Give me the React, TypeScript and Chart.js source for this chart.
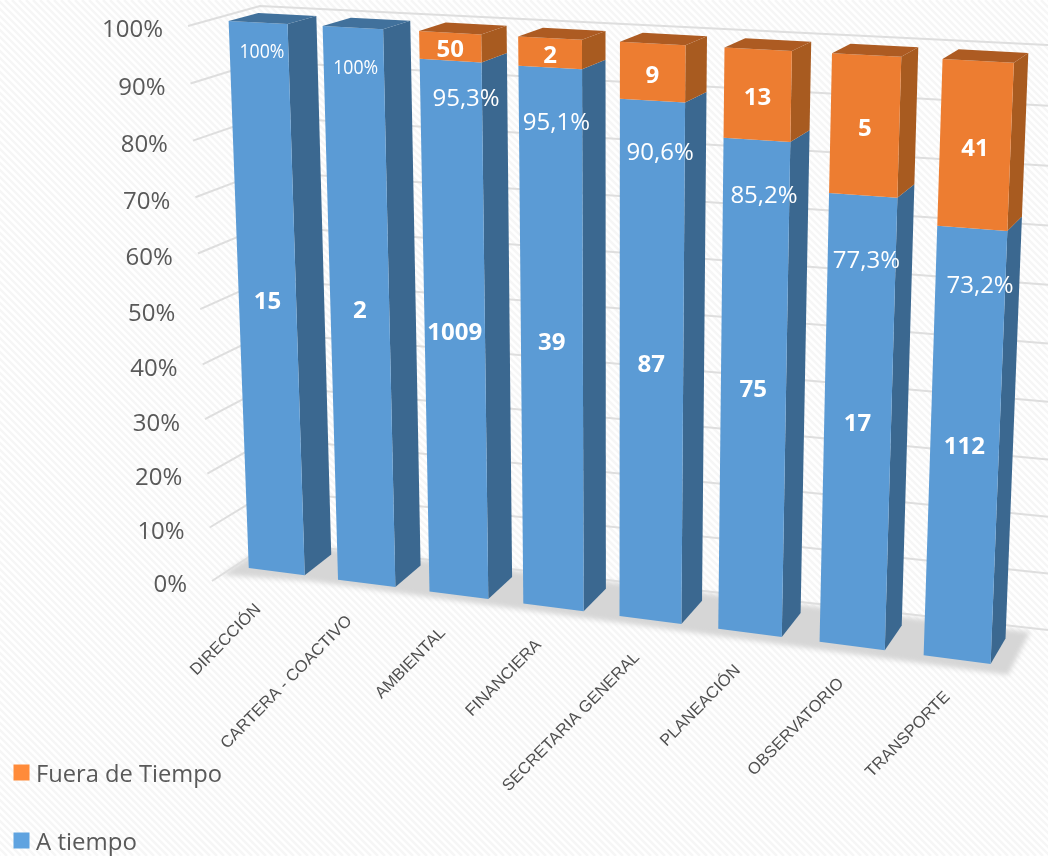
import React, { useEffect, useRef } from "react";
import { Chart, registerables } from "chart.js";

Chart.register(...registerables);

const categories = ["DIRECCIÓN", "CARTERA - COACTIVO", "AMBIENTAL", "FINANCIERA", "SECRETARIA GENERAL", "PLANEACIÓN", "OBSERVATORIO", "TRANSPORTE"];
const aTiempoPct = [100, 100, 95.3, 95.1, 90.6, 85.2, 77.3, 73.2];
const fueraPct = [0, 0, 4.7, 4.9, 9.4, 14.8, 22.7, 26.8];
const aTiempoCount = [15, 2, 1009, 39, 87, 75, 17, 112];
const fueraCount = [0, 0, 50, 2, 9, 13, 5, 41];
const pctLabels = ["100%", "100%", "95,3%", "95,1%", "90,6%", "85,2%", "77,3%", "73,2%"];
const yTicks = { min: 0, max: 100, step: 10 };

// layout of the label placed inside the blue segments (value height, sideways nudge)
const pctLabelHeight = [94.8, 93, 88.7, 85.8, 81.9, 75.9, 66.4, 63.7];
const pctLabelNudge = [3, 2, 15, 6, 8, 8, 5, 10];

type P = [number, number];
type Quad = { bl: P; br: P; tr: P; tl: P };

function homography(q: Quad) {
  const [x0, y0] = q.bl, [x1, y1] = q.br, [x2, y2] = q.tr, [x3, y3] = q.tl;
  const dx1 = x1 - x2, dx2 = x3 - x2, sx = x0 - x1 + x2 - x3;
  const dy1 = y1 - y2, dy2 = y3 - y2, sy = y0 - y1 + y2 - y3;
  const det = dx1 * dy2 - dx2 * dy1;
  const g = (sx * dy2 - dx2 * sy) / det;
  const h = (dx1 * sy - sx * dy1) / det;
  const a = x1 - x0 + g * x1, b = x3 - x0 + h * x3;
  const d = y1 - y0 + g * y1, e = y3 - y0 + h * y3;
  return (u: number, v: number): P => {
    const w = g * u + h * v + 1;
    return [(a * u + b * v + x0) / w, (d * u + e * v + y0) / w];
  };
}

// walls: straight edges, with a mild foreshortening of the value axis
function wallMap(q: Quad) {
  const c = 0.96;
  return (u: number, v: number): P => {
    const s = (c * v) / (1 - (1 - c) * v);
    const bx = q.bl[0] + (q.br[0] - q.bl[0]) * u, by = q.bl[1] + (q.br[1] - q.bl[1]) * u;
    const tx = q.tl[0] + (q.tr[0] - q.tl[0]) * u, ty = q.tl[1] + (q.tr[1] - q.tl[1]) * u;
    return [bx + (tx - bx) * s, by + (ty - by) * s];
  };
}

const front = homography({ bl: [232.5, 566], br: [1010.5, 666.5], tr: [1035, 64], tl: [211.5, 20] });
const back = homography({ bl: [260, 545.5], br: [1025, 641], tr: [1049, 54], tl: [241.5, 12] });
const wall = wallMap({ bl: [272, 542], br: [1048, 630], tr: [1048, 45], tl: [260, 6] });
const sideWall = wallMap({ bl: [212, 581], br: [272, 542], tr: [260, 6], tl: [188, 26] });

const COLORS = {
  blue: "#5b9bd5", blueSide: "#3b6890", blueTop: "#41719c",
  orange: "#ed7d31", orangeSide: "#a85b20", orangeTop: "#ad5b22",
  legendBlue: "#5fa3e0", legendOrange: "#ff8b3a",
  grid: "#dedede", floor: "#d6d6d6", axisText: "#595959", catText: "#505050",
};

function poly(ctx: CanvasRenderingContext2D, pts: P[], fill: string) {
  ctx.beginPath();
  pts.forEach((p, i) => (i ? ctx.lineTo(p[0], p[1]) : ctx.moveTo(p[0], p[1])));
  ctx.closePath();
  ctx.fillStyle = fill;
  ctx.fill();
}

const perspective = {
  id: "perspective",
  beforeDraw(chart: any) {
    const { ctx, width, height } = chart;
    ctx.save();
    ctx.fillStyle = "#ffffff";
    ctx.fillRect(0, 0, width, height);
    ctx.strokeStyle = "#f6f6f6";
    ctx.lineWidth = 2.5;
    ctx.beginPath();
    for (let c = -height; c < width + height; c += 7) {
      ctx.moveTo(c, 0);
      ctx.lineTo(c + height, height);
    }
    ctx.stroke();
    ctx.restore();
  },
  beforeDatasetsDraw(chart: any) {
    const { ctx, chartArea, scales } = chart;
    const U = (px: number) => (px - chartArea.left) / chartArea.width;
    const V = (py: number) => (chartArea.bottom - py) / chartArea.height;
    const yScale = scales.y;
    const xScale = scales.x;

    ctx.save();
    // floor
    ctx.save();
    ctx.filter = "blur(2.5px)";
    poly(ctx, [[222, 575], [272, 542], [1030, 632], [1008, 675], [310, 581]], COLORS.floor);
    ctx.restore();

    // grid lines on both walls
    ctx.strokeStyle = COLORS.grid;
    ctx.lineWidth = 2;
    yScale.ticks.forEach((t: any, i: number) => {
      const v = V(yScale.getPixelForTick(i));
      const a = sideWall(0, v), b = sideWall(1, v), c = wall(1, v);
      ctx.beginPath();
      ctx.moveTo(a[0], a[1]);
      ctx.lineTo(b[0], b[1]);
      ctx.lineTo(c[0], c[1]);
      ctx.stroke();
    });

    // y tick labels
    ctx.fillStyle = COLORS.axisText;
    ctx.font = '24px "Open Sans"';
    ctx.textAlign = "right";
    ctx.textBaseline = "middle";
    yScale.ticks.forEach((t: any, i: number) => {
      const v = V(yScale.getPixelForTick(i));
      const a = sideWall(0, v);
      ctx.fillText(t.label, a[0] - 25, a[1] + 4.5);
    });

    // x tick labels
    ctx.fillStyle = COLORS.catText;
    ctx.font = '16.5px "Liberation Sans"';
    ctx.textAlign = "right";
    xScale.ticks.forEach((t: any, i: number) => {
      const u = U(xScale.getPixelForTick(i));
      const p = front(u, 0);
      ctx.save();
      ctx.translate(p[0] - 19 + 10 * u, p[1] + 35);
      ctx.rotate((-45.5 * Math.PI) / 180);
      ctx.fillText(t.label, 0, 0);
      ctx.restore();
    });

    // bars
    const blueMeta = chart.getDatasetMeta(0).data;
    const orangeMeta = chart.getDatasetMeta(1).data;
    const styles = [
      { f: COLORS.blue, s: COLORS.blueSide, t: COLORS.blueTop },
      { f: COLORS.orange, s: COLORS.orangeSide, t: COLORS.orangeTop },
    ];
    const drawSeg = (bar: any, st: any, withTop: boolean) => {
      const ul = U(bar.x - bar.width / 2), ur = U(bar.x + bar.width / 2);
      const vb = V(bar.base), vt = V(bar.y);
      poly(ctx, [front(ur, vb), back(ur, vb), back(ur, vt), front(ur, vt)], st.s);
      poly(ctx, [front(ul, vb), front(ur, vb), front(ur, vt), front(ul, vt)], st.f);
      if (withTop) poly(ctx, [front(ul, vt), front(ur, vt), back(ur, vt), back(ul, vt)], st.t);
    };
    blueMeta.forEach((bar: any, i: number) => {
      const hasOrange = fueraPct[i] > 0;
      drawSeg(bar, styles[0], !hasOrange);
      if (hasOrange) drawSeg(orangeMeta[i], styles[1], true);
    });

    // labels on bars
    ctx.fillStyle = "#ffffff";
    ctx.textAlign = "center";
    ctx.textBaseline = "middle";
    const mid = (bar: any): P => front(U(bar.x), (V(bar.y) + V(bar.base)) / 2);
    blueMeta.forEach((bar: any, i: number) => {
      ctx.font = 'bold 24px "Open Sans"';
      const m = mid(bar);
      ctx.fillText(String(aTiempoCount[i]), m[0], m[1] - 2);
      if (fueraCount[i] > 0) {
        const o = mid(orangeMeta[i]);
        ctx.fillText(String(fueraCount[i]), o[0], o[1] + 3.5);
      }
      const vp = V(yScale.getPixelForValue(pctLabelHeight[i]));
      const p = front(U(bar.x), vp);
      if (i < 2) {
        ctx.font = '20px "Open Sans"';
        ctx.fillText(pctLabels[i], p[0] + pctLabelNudge[i], p[1], 45);
      } else {
        ctx.font = '24px "Open Sans"';
        ctx.fillText(pctLabels[i], p[0] + pctLabelNudge[i], p[1]);
      }
    });

    // legend, top to bottom in reverse dataset order
    const datasets = chart.data.datasets;
    const entries = [
      { y: 773, c: COLORS.legendOrange, t: datasets[1].label },
      { y: 841, c: COLORS.legendBlue, t: datasets[0].label },
    ];
    ctx.font = '24px "Open Sans"';
    ctx.textAlign = "left";
    entries.forEach((e) => {
      ctx.fillStyle = e.c;
      ctx.fillRect(13.5, e.y - 8.5, 16, 16);
      ctx.fillStyle = COLORS.axisText;
      ctx.fillText(e.t, 36, e.y + 2, 186);
    });
    ctx.restore();
    return false;
  },
};

export default function App() {
  const ref = useRef<HTMLCanvasElement>(null);
  useEffect(() => {
    document.body.style.margin = "0";
    const chart = new Chart(ref.current!, {
      type: "bar",
      data: {
        labels: categories,
        datasets: [
          { label: "A tiempo", data: aTiempoPct, backgroundColor: COLORS.blue },
          { label: "Fuera de Tiempo", data: fueraPct, backgroundColor: COLORS.orange },
        ],
      },
      options: {
        responsive: false,
        animation: false,
        layout: { padding: 0 },
        plugins: { legend: { display: false }, tooltip: { enabled: false }, title: { display: false } },
        scales: {
          x: { stacked: true, display: false, ticks: { autoSkip: false }, grid: { offset: true } },
          y: {
            stacked: true,
            display: false,
            min: yTicks.min,
            max: yTicks.max,
            ticks: { stepSize: yTicks.step, callback: (v: any) => v + "%" },
          },
        },
        datasets: { bar: { barPercentage: 0.63, categoryPercentage: 1 } },
      },
      plugins: [perspective],
    } as any);
    return () => chart.destroy();
  }, []);
  return <canvas ref={ref} width={1048} height={856} style={{ display: "block", filter: "blur(0.4px)" }} />;
}
